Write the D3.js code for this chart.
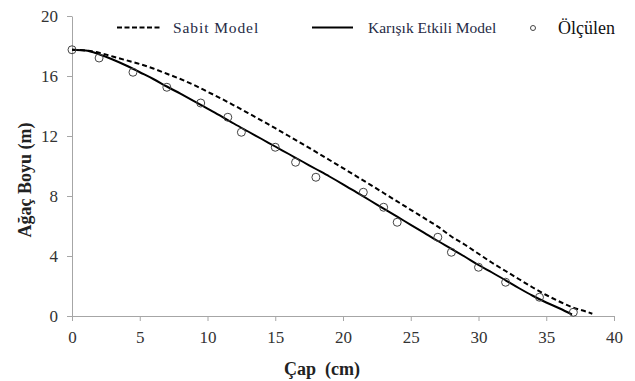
<!DOCTYPE html>
<html>
<head>
<meta charset="utf-8">
<script src="https://cdn.jsdelivr.net/npm/d3@7"></script>
<style>
  body { margin: 0; background: #fff; }
  svg text { font-family: "Liberation Serif", "Times New Roman", Times, serif !important; }
  .axis path, .axis line { stroke: #a6a6a6; }
  .axis text { font-size: 17px; fill: #333; }
  .title { font-weight: bold; font-size: 18px; fill: #222; }
</style>
</head>
<body>
<script>
(function(){

    //measured points (Ölçülen)
    var olcX = [0, 2, 4.5, 7, 9.5, 11.5, 12.5, 15, 16.5, 18, 21.5, 23, 24, 27, 28, 30, 32, 34.5, 37];
    var olcY = [17.75, 17.2, 16.25, 15.25, 14.2, 13.25, 12.25, 11.25, 10.25, 9.25, 8.25, 7.25, 6.25, 5.25, 4.25, 3.25, 2.25, 1.25, 0.25];

    //Karışık Etkili Model (solid)
    var karisikX = [0, 1, 2, 3, 4, 5, 6, 7, 8, 9, 10, 11, 12, 13, 14, 15, 16, 17, 18, 19, 20, 21, 22, 23, 24, 25, 26, 27, 28, 29, 30, 31, 32, 33, 34, 35, 36, 36.9];
    var karisikY = [17.75, 17.7, 17.45, 17.1, 16.7, 16.25, 15.8, 15.3, 14.82, 14.33, 13.83, 13.33, 12.8, 12.3, 11.8, 11.3, 10.8, 10.3, 9.8, 9.3, 8.78, 8.24, 7.7, 7.16, 6.62, 6.08, 5.54, 5.0, 4.48, 3.95, 3.4, 2.9, 2.38, 1.85, 1.35, 0.9, 0.5, 0.1];

    //Sabit Model (dashed)
    var sabitX = [0, 1, 2, 3, 4, 5, 6, 7, 8, 9, 10, 11, 12, 13, 14, 15, 16, 17, 18, 19, 20, 21, 22, 23, 24, 25, 26, 27, 28, 29, 30, 31, 32, 33, 34, 35, 36, 37, 38, 38.4];
    var sabitY = [17.75, 17.7, 17.55, 17.3, 17.05, 16.8, 16.5, 16.15, 15.8, 15.4, 14.95, 14.5, 14.02, 13.53, 13.03, 12.52, 12.0, 11.47, 10.94, 10.4, 9.86, 9.31, 8.76, 8.2, 7.64, 7.08, 6.52, 5.96, 5.3, 4.75, 4.15, 3.55, 3.0, 2.45, 1.9, 1.4, 0.95, 0.55, 0.28, 0.15];

    var xTicks = [0, 5, 10, 15, 20, 25, 30, 35, 40];
    var yTicks = [0, 4, 8, 12, 16, 20];
    var legendLabels = ["Sabit Model", "Karışık Etkili Model", "Ölçülen"];

    var width = 635,
        height = 381,
        margin = {top: 16, right: 21, bottom: 65, left: 72};

    var svg = d3.select("body")
        .append("svg")
        .attr("width", width)
        .attr("height", height);

    var x = d3.scaleLinear().domain([0, 40]).range([margin.left, width - margin.right]);
    var y = d3.scaleLinear().domain([0, 20]).range([height - margin.bottom, margin.top]);

    //axes
    svg.append("g")
        .attr("class", "axis")
        .attr("transform", "translate(0," + y(0) + ")")
        .call(d3.axisBottom(x).tickValues(xTicks).tickSize(5).tickPadding(10).tickSizeOuter(0))
        .attr("font-family", null);

    svg.append("g")
        .attr("class", "axis")
        .attr("transform", "translate(" + x(0) + ",0)")
        .call(d3.axisLeft(y).tickValues(yTicks).tickSize(5).tickPadding(9).tickSizeOuter(0))
        .attr("font-family", null);

    //axis titles
    svg.append("text")
        .attr("class", "title")
        .attr("x", 322)
        .attr("y", 375)
        .attr("text-anchor", "middle")
        .text("Çap\u00a0\u00a0(cm)");

    svg.append("text")
        .attr("class", "title")
        .attr("transform", "translate(31,180) rotate(-90)")
        .attr("text-anchor", "middle")
        .text("Ağaç Boyu (m)");

    //lines
    function pairs(xs, ys){
        return xs.map(function(d, i){ return [d, ys[i]]; });
    }

    var line = d3.line()
        .x(function(d){ return x(d[0]); })
        .y(function(d){ return y(d[1]); })
        .curve(d3.curveMonotoneX);

    svg.append("path")
        .datum(pairs(sabitX, sabitY))
        .attr("d", line)
        .attr("fill", "none")
        .attr("stroke", "#000")
        .attr("stroke-width", 2)
        .attr("stroke-dasharray", "5,3");

    svg.append("path")
        .datum(pairs(karisikX, karisikY))
        .attr("d", line)
        .attr("fill", "none")
        .attr("stroke", "#000")
        .attr("stroke-width", 2);

    //measured points
    svg.selectAll(".pt")
        .data(pairs(olcX, olcY))
        .enter()
        .append("circle")
        .attr("class", "pt")
        .attr("cx", function(d){ return x(d[0]); })
        .attr("cy", function(d){ return y(d[1]); })
        .attr("r", 4)
        .attr("fill", "none")
        .attr("stroke", "#444")
        .attr("stroke-width", 1);

    //legend
    var legend = svg.append("g").attr("class", "legend");

    legend.append("line")
        .attr("x1", 117).attr("x2", 160).attr("y1", 27.5).attr("y2", 27.5)
        .attr("stroke", "#000").attr("stroke-width", 2).attr("stroke-dasharray", "5,2.5");
    legend.append("text")
        .attr("x", 173).attr("y", 32.5)
        .attr("font-size", "15.5px").attr("letter-spacing", "0.9px").attr("fill", "#262b45")
        .text(legendLabels[0]);

    legend.append("line")
        .attr("x1", 312).attr("x2", 353).attr("y1", 27.5).attr("y2", 27.5)
        .attr("stroke", "#000").attr("stroke-width", 2);
    legend.append("text")
        .attr("x", 368).attr("y", 32.5)
        .attr("font-size", "15.5px").attr("fill", "#262b45")
        .text(legendLabels[1]);

    legend.append("circle")
        .attr("cx", 533).attr("cy", 28).attr("r", 2.5)
        .attr("fill", "none").attr("stroke", "#444").attr("stroke-width", 1);
    legend.append("text")
        .attr("x", 558).attr("y", 33.5)
        .attr("font-size", "18px").attr("fill", "#111")
        .text(legendLabels[2]);

})();
</script>
</body>
</html>
